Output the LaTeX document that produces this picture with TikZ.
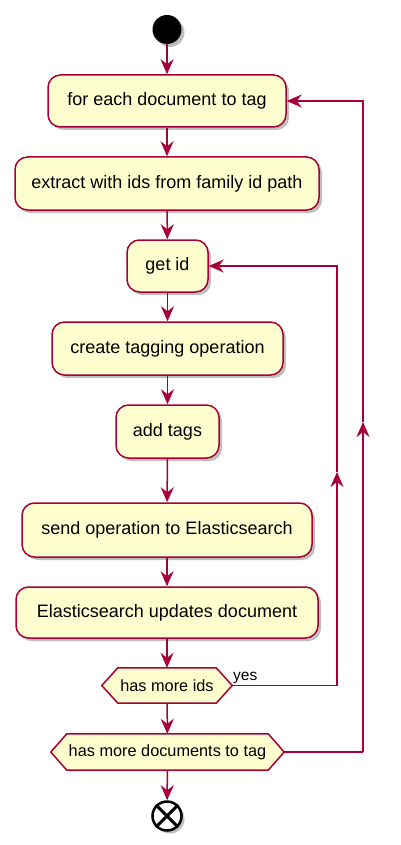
\documentclass[tikz,border=0pt]{standalone}
\usepackage{fontspec}
\setmainfont{Liberation Sans}
\usetikzlibrary{shadows,arrows.meta,backgrounds}
\definecolor{pborder}{HTML}{A80036}
\definecolor{pfill}{HTML}{FEFECE}
\begin{document}
\begin{tikzpicture}[x=1pt,y=-1pt,
  shad/.style={drop shadow={shadow xshift=3pt,shadow yshift=-3pt,opacity=0.25,fill=black}},
  act/.style={draw=pborder,fill=pfill,line width=1.5pt,rounded corners=12.5pt,inner sep=0pt,
    font=\fontsize{18}{21}\selectfont,shad},
  dec/.style={inner sep=0pt,font=\fontsize{16.3}{19}\selectfont},
  hexa/.style={draw=pborder,fill=pfill,line width=1.5pt},
  hexshadow/.style={fill=black,opacity=0.25},
  line/.style={draw=pborder,line width=1.5pt},
  flow/.style={line,-{Stealth[length=15pt,width=13pt,inset=5pt]}}]
\useasboundingbox (0,0) rectangle (400,845);
\node[circle,fill=black,minimum size=29pt,inner sep=0pt,shad] (start) at (167,29.5) {};
\node[act,minimum width=238pt,minimum height=52pt] (b1) at (167,101) {for each document to tag};
\node[act,minimum width=304pt,minimum height=53pt] (b2) at (167,183.5) {extract with ids from family id path};
\node[act,minimum width=81pt,minimum height=52pt] (b3) at (167.5,266) {get id};
\node[act,minimum width=231pt,minimum height=53pt] (b4) at (167.5,348.5) {create tagging operation};
\node[act,minimum width=103pt,minimum height=53pt] (b5) at (167.5,431.5) {add tags};
\node[act,minimum width=290pt,minimum height=54pt] (b6) at (167,530) {send operation to Elasticsearch};
\node[act,minimum width=302pt,minimum height=51pt] (b7) at (167,612.5) {Elasticsearch updates document};
\node[dec,minimum width=130pt,minimum height=35pt] (d1) at (167,685.5) {has more ids};
\node[dec,minimum width=233pt,minimum height=36pt] (d2) at (167.5,752) {has more documents to tag};
\node[circle,draw=black,line width=2.5pt,fill=white,minimum size=29pt,inner sep=0pt,shad] (stop) at (167,816) {};
\draw[black,line width=3pt] (stop.north west) -- (stop.south east) (stop.north east) -- (stop.south west);
\begin{scope}[on background layer]
\foreach \d in {d1,d2}{
  \path[hexshadow,xshift=3pt,yshift=3pt] (\d.west) -- ([xshift=16pt]\d.north west) -- ([xshift=-16pt]\d.north east)
    -- (\d.east) -- ([xshift=-16pt]\d.south east) -- ([xshift=16pt]\d.south west) -- cycle;
  \path[hexa] (\d.west) -- ([xshift=16pt]\d.north west) -- ([xshift=-16pt]\d.north east)
    -- (\d.east) -- ([xshift=-16pt]\d.south east) -- ([xshift=16pt]\d.south west) -- cycle;
}
\end{scope}
\node[anchor=base west,inner sep=0pt,font=\fontsize{15.5}{18}\selectfont] (yes) at (233,680.5) {yes};
\draw[flow] (start) -- (b1);
\draw[flow] (b1) -- (b2);
\draw[flow] (b2) -- (b3);
\draw[flow] (b3) -- (b4);
\draw[flow] (b4) -- (b5);
\draw[flow] (b5) -- (b6);
\draw[flow] (b6) -- (b7);
\draw[flow] (b7) -- (d1);
\draw[flow] (d1) -- (d2);
\draw[flow] (d2) -- (stop);
\coordinate (l1a) at (337,685.5);
\coordinate (m1) at (337,472);
\coordinate (l1b) at (337,266);
\draw[line] (d1.east) -- (l1a);
\draw[flow] (l1a) -- (m1);
\draw[flow] (m1) -- (l1b) -- (b3.east);
\coordinate (l2a) at (363,752);
\coordinate (m2) at (363,422);
\coordinate (l2b) at (363,101);
\draw[line] (d2.east) -- (l2a);
\draw[flow] (l2a) -- (m2);
\draw[flow] (m2) -- (l2b) -- (b1.east);
\end{tikzpicture}
\end{document}
